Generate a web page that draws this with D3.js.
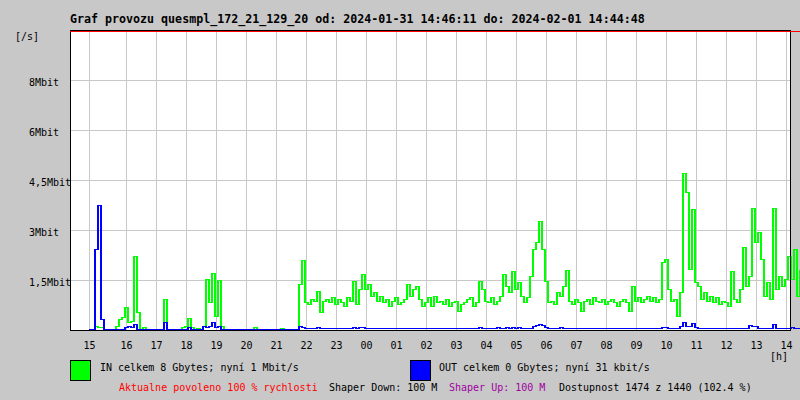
<!DOCTYPE html>
<html>
<head>
<meta charset="utf-8">
<script src="https://cdn.jsdelivr.net/npm/d3@7"></script>
<style>
  html, body { margin: 0; padding: 0; background: #c8c8c8; }
  svg { display: block; }
  text { font-family: "DejaVu Sans Mono", monospace; font-size: 10px; fill: #000; }
</style>
</head>
<body>
<svg id="chart" width="800" height="400"></svg>
<script>
// ---- data ----
const titleText = "Graf provozu quesmpl_172_21_129_20 od: 2024-01-31 14:46:11 do: 2024-02-01 14:44:48";
const axisStart = "2024-01-31T14:08:00";
const axisEnd = "2024-02-01T14:08:00";
const dataStart = "2024-01-31T14:46:00";
const stepMinutes = 6;

const hourTickTimes = ["2024-01-31T14:46:00","2024-01-31T16:00:00","2024-01-31T17:00:00","2024-01-31T18:00:00",
  "2024-01-31T19:00:00","2024-01-31T20:00:00","2024-01-31T21:00:00","2024-01-31T22:00:00","2024-01-31T23:00:00",
  "2024-02-01T00:00:00","2024-02-01T01:00:00","2024-02-01T02:00:00","2024-02-01T03:00:00","2024-02-01T04:00:00",
  "2024-02-01T05:00:00","2024-02-01T06:00:00","2024-02-01T07:00:00","2024-02-01T08:00:00","2024-02-01T09:00:00",
  "2024-02-01T10:00:00","2024-02-01T11:00:00","2024-02-01T12:00:00","2024-02-01T13:00:00","2024-02-01T14:00:00"];
const hourLabels = ["15","16","17","18","19","20","21","22","23","00","01","02","03","04","05","06","07","08","09","10","11","12","13","14"];

const yTickValues = [1.5, 3, 4.5, 6, 7.5];           // Mbit/s
const yTickLabels = ["1,5Mbit","3Mbit","4,5Mbit","6Mbit","8Mbit"];
const yMax = 9;

// IN traffic (Mbit/s), one value every 6 minutes from 14:46
const inValues = [
  0, 0, 0.1, 0.05, 0.06, 0, 0, 0, 0, 0.1,
  0.3, 0.35, 0.66, 0.2, 0.24, 2.2, 0.5, 0, 0.06, 0,
  0, 0, 0, 0, 0, 0.9, 0, 0, 0, 0,
  0, 0.05, 0.1, 0.33, 0.05, 0, 0.03, 0, 0.1, 1.5,
  0.8, 1.68, 0.4, 1.47, 0.1, 0, 0, 0, 0, 0,
  0, 0, 0, 0, 0, 0.05, 0, 0, 0, 0,
  0, 0, 0, 0, 0.03, 0, 0, 0, 0, 0,
  1.35, 2.07, 0.8, 0.75, 0.9, 0.85, 1.14, 0.5, 0.85, 0.9,
  0.8, 0.95, 0.75, 0.9, 0.8, 0.7, 0.95, 0.85, 1.44, 0.75,
  1.2, 1.65, 1.2, 1.35, 1.0, 1.1, 0.85, 1.0, 0.8, 0.9,
  0.7, 0.85, 0.95, 0.75, 0.8, 0.9, 1.35, 1.0, 1.2, 1.3,
  0.9, 0.7, 0.8, 0.95, 0.7, 1.0, 0.8, 0.85, 0.75, 0.9,
  0.7, 0.8, 0.85, 0.54, 0.75, 0.8, 0.9, 0.95, 0.7, 0.8,
  1.44, 1.2, 0.85, 0.8, 0.95, 0.75, 0.85, 1.0, 1.65, 1.3,
  1.1, 1.75, 1.2, 1.4, 1.0, 0.8, 0.95, 1.6, 2.4, 2.6,
  3.24, 2.4, 1.44, 0.8, 0.85, 0.75, 1.1, 1.0, 1.3, 1.77,
  0.85, 0.75, 0.9, 0.8, 0.55, 0.85, 0.9, 0.75, 0.95, 0.85,
  0.8, 0.9, 0.75, 0.85, 0.9, 0.8, 0.7, 0.85, 0.9, 0.8,
  0.55, 1.3, 0.85, 0.95, 0.8, 0.9, 1.0, 0.85, 0.95, 0.8,
  0.9, 2.0, 2.1, 1.2, 0.85, 0.9, 0.4, 1.1, 4.68, 4.1,
  1.8, 3.6, 1.4, 1.3, 0.9, 1.1, 0.85, 1.0, 0.8, 0.95,
  0.75, 0.85, 0.8, 0.7, 1.74, 0.9, 0.8, 1.2, 2.46, 1.3,
  1.6, 3.63, 2.6, 2.9, 2.1, 1.0, 1.4, 0.9, 3.63, 1.2,
  1.6, 1.3, 1.5, 2.2, 1.5, 2.4, 1.0, 1.8
];

// OUT traffic (Mbit/s), same sampling
const outValues = [
  0, 0, 2.4, 3.72, 0.3, 0, 0, 0, 0, 0,
  0, 0, 0.05, 0.1, 0.05, 0.15, 0, 0, 0, 0,
  0, 0, 0, 0, 0, 0.2, 0, 0, 0, 0,
  0, 0, 0, 0.05, 0, 0, 0, 0, 0.1, 0.05,
  0.1, 0.2, 0.05, 0.1, 0, 0, 0, 0, 0, 0,
  0, 0, 0, 0, 0, 0, 0, 0, 0, 0,
  0, 0, 0, 0, 0, 0, 0, 0, 0, 0,
  0.1, 0.07, 0.03, 0.03, 0.03, 0.03, 0.07, 0.03, 0.03, 0.03,
  0.03, 0.03, 0.03, 0.03, 0.03, 0.03, 0.03, 0.03, 0.07, 0.03,
  0.07, 0.07, 0.03, 0.03, 0.03, 0.03, 0.03, 0.03, 0.03, 0.03,
  0.03, 0.03, 0.03, 0.03, 0.03, 0.03, 0.03, 0.03, 0.03, 0.03,
  0.03, 0.03, 0.03, 0.03, 0.03, 0.03, 0.03, 0.03, 0.03, 0.03,
  0.03, 0.03, 0.03, 0.03, 0.03, 0.03, 0.03, 0.03, 0.03, 0.03,
  0.07, 0.03, 0.03, 0.03, 0.03, 0.03, 0.07, 0.03, 0.03, 0.07,
  0.03, 0.07, 0.03, 0.07, 0.03, 0.03, 0.03, 0.03, 0.09, 0.12,
  0.15, 0.12, 0.06, 0.03, 0.03, 0.03, 0.03, 0.05, 0.03, 0.03,
  0.03, 0.03, 0.03, 0.03, 0.03, 0.03, 0.03, 0.03, 0.03, 0.03,
  0.03, 0.03, 0.03, 0.03, 0.03, 0.03, 0.03, 0.03, 0.03, 0.03,
  0.03, 0.03, 0.03, 0.03, 0.03, 0.03, 0.03, 0.03, 0.03, 0.03,
  0.03, 0.06, 0.05, 0.03, 0.03, 0.03, 0.03, 0.08, 0.2, 0.1,
  0.08, 0.18, 0.06, 0.03, 0.03, 0.03, 0.03, 0.03, 0.03, 0.03,
  0.03, 0.03, 0.03, 0.03, 0.03, 0.03, 0.03, 0.03, 0.03, 0.03,
  0.12, 0.1, 0.08, 0.03, 0.03, 0.03, 0.03, 0.03, 0.15, 0.03,
  0.03, 0.03, 0.03, 0.03, 0.05, 0.03, 0.03, 0.03
];

const legendIn = "IN celkem 8 Gbytes; nyní 1 Mbit/s";
const legendOut = "OUT celkem 0 Gbytes; nyní 31 kbit/s";
const infoParts = [
  { text: "Aktualne povoleno 100 % rychlosti", color: "#ff0000" },
  { text: "Shaper Down: 100 M", color: "#000000" },
  { text: "Shaper Up: 100 M", color: "#a000a0" },
  { text: "Dostupnost 1474 z 1440 (102.4 %)", color: "#000000" }
];

// ---- drawing ----
const svg = d3.select("#chart");
const L = 70, R = 790, T = 31, B = 330;
const parse = d3.isoParse;
const x = d3.scaleTime().domain([parse(axisStart), parse(axisEnd)]).range([L, R]);
const y = d3.scaleLinear().domain([0, yMax]).range([B, B - 300]);

const t0 = parse(dataStart);
const times = inValues.map((_, i) => new Date(t0.getTime() + i * stepMinutes * 60000));
const tickDates = hourTickTimes.map(parse);

// background of plot
svg.append("rect").attr("x", L).attr("y", T).attr("width", R - L).attr("height", B - T).attr("fill", "#fff");

// gridlines
const grid = svg.append("g").attr("stroke", "#c8c8c8").attr("stroke-width", 1).attr("shape-rendering", "crispEdges");
grid.selectAll("line.v").data(tickDates).join("line")
  .attr("x1", d => Math.round(x(d)) + 0.5).attr("x2", d => Math.round(x(d)) + 0.5)
  .attr("y1", T).attr("y2", B);
grid.selectAll("line.h").data(yTickValues).join("line")
  .attr("x1", L).attr("x2", R)
  .attr("y1", d => Math.round(y(d)) + 0.5).attr("y2", d => Math.round(y(d)) + 0.5);

// series
const lineIn = d3.line().x((d, i) => x(times[i])).y(d => Math.round(y(d)) - 0.5).curve(d3.curveStepAfter);
svg.append("path").datum(inValues).attr("d", lineIn)
  .attr("fill", "none").attr("stroke", "#00ff00").attr("stroke-width", 1.3).attr("shape-rendering", "crispEdges");
svg.append("path").datum(outValues).attr("d", lineIn)
  .attr("fill", "none").attr("stroke", "#0000ff").attr("stroke-width", 1.6).attr("shape-rendering", "crispEdges");

// frame
const frame = svg.append("g").attr("shape-rendering", "crispEdges");
frame.append("line").attr("x1", L).attr("x2", R + 1).attr("y1", 30.5).attr("y2", 30.5).attr("stroke", "#000");
frame.append("line").attr("x1", L + 0.5).attr("x2", L + 0.5).attr("y1", 30).attr("y2", B + 1).attr("stroke", "#000");
frame.append("line").attr("x1", R + 0.5).attr("x2", R + 0.5).attr("y1", 30).attr("y2", B).attr("stroke", "#000");
frame.append("line").attr("x1", L).attr("x2", R + 1).attr("y1", B + 0.5).attr("y2", B + 0.5).attr("stroke", "#000");
frame.append("line").attr("x1", L).attr("x2", 800).attr("y1", 31.5).attr("y2", 31.5).attr("stroke", "#ff0000");

// x axis labels
const xAxis = d3.axisBottom(x).tickValues(tickDates).tickFormat((d, i) => hourLabels[i]).tickSize(0).tickPadding(0);
const gx = svg.append("g").attr("transform", `translate(0,${B + 12})`).call(xAxis);
gx.select(".domain").remove();
gx.selectAll("text").style("font-family", "DejaVu Sans Mono").style("font-size", "10px").style("fill", "#000")
  .attr("dy", "0.72em");

// y labels
svg.append("g").selectAll("text").data(yTickValues).join("text")
  .attr("x", 29).attr("y", d => y(d) + 6).text((d, i) => yTickLabels[i]);

// units
svg.append("text").attr("x", 15).attr("y", 40).text("[/s]");
svg.append("text").attr("x", 770).attr("y", 360).text("[h]");

// title
svg.append("text").attr("x", 70).attr("y", 23).style("font-weight", "bold").style("font-size", "11.65px").text(titleText);

// legend
svg.append("rect").attr("x", 70.5).attr("y", 360.5).attr("width", 20).attr("height", 20)
  .attr("fill", "#00ff00").attr("stroke", "#000");
svg.append("text").attr("x", 100).attr("y", 371).text(legendIn);
svg.append("rect").attr("x", 410.5).attr("y", 360.5).attr("width", 20).attr("height", 20)
  .attr("fill", "#0000ff").attr("stroke", "#000");
svg.append("text").attr("x", 439).attr("y", 371).text(legendOut);

const infoX = [119, 329, 449, 559];
svg.append("g").selectAll("text").data(infoParts).join("text")
  .attr("x", (d, i) => infoX[i]).attr("y", 391).style("fill", d => d.color).text(d => d.text);
</script>
</body>
</html>
